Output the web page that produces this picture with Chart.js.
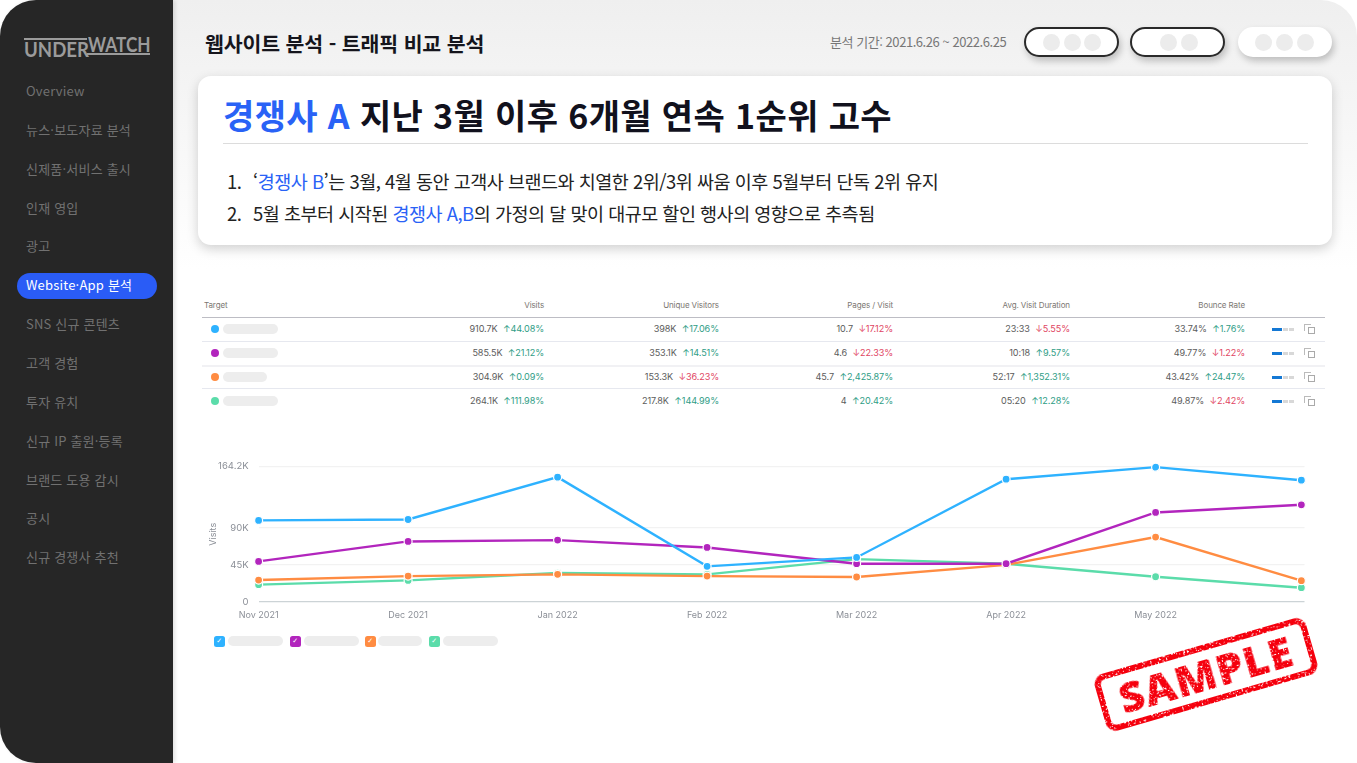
<!DOCTYPE html>
<html lang="ko">
<head>
<meta charset="utf-8">
<title>웹사이트 분석 - 트래픽 비교 분석</title>
<script src="https://cdn.jsdelivr.net/npm/chart.js@4/dist/chart.umd.js"></script>
<style>
  * { box-sizing: border-box; }
  html, body { margin: 0; width: 1357px; height: 763px; overflow: hidden; background: #fff; font-family: "Noto Sans CJK KR", "Noto Sans", sans-serif; }
  .abs { position: absolute; }
  #main { left: 100px; top: 0; width: 1257px; height: 763px; border-radius: 0 36px 0 0; background: linear-gradient(#efefef 0, #f6f6f6 120px, #fff 270px); }
  #side { left: 0; top: 0; width: 173px; height: 763px; background: #262626; border-radius: 36px 0 0 36px; box-shadow: 2px 0 4px rgba(0,0,0,.12); }
  .menu { position: absolute; left: 26px; font-size: 13px; line-height: 18px; color: #717171; white-space: nowrap; letter-spacing: .2px; }
  #pill { left: 17px; top: 273px; width: 140px; height: 26px; border-radius: 13px; background: #2a5cf6; }
  .logo { position: absolute; font-family: "Lato", sans-serif; font-weight: 700; font-size: 20px; color: #9b9b9b; line-height: 20px; transform-origin: left; }
  .rule { position: absolute; background: #9b9b9b; height: 2px; }
  #page { left: 205px; top: 28px; font-size: 20.5px; font-weight: 700; color: #15151c; line-height: 30px; white-space: nowrap; letter-spacing: -.12px; }
  #period { left: 830px; top: 33px; font-size: 13px; color: #777; line-height: 18px; white-space: nowrap; letter-spacing: -.45px; }
  .btn { position: absolute; top: 27px; height: 30px; border-radius: 15px; background: #fff; box-shadow: 2px 4px 7px rgba(0,0,0,.22); }
  .btn.on { border: 2px solid #2a2a2a; }
  .btn i { position: absolute; top: 50%; width: 17px; height: 17px; margin-top: -8.5px; border-radius: 50%; background: #ececec; }
  #card { left: 198px; top: 76px; width: 1134px; height: 169px; background: #fff; border-radius: 13px; box-shadow: 0 4px 12px rgba(0,0,0,.18); }
  #head { left: 223px; top: 92px; font-size: 34px; line-height: 46px; font-weight: 700; color: #11111d; white-space: nowrap; letter-spacing: .37px; }
  .blue { color: #2962f6; }
  #hr { left: 223px; top: 143px; width: 1085px; height: 1px; background: #dcdcdc; }
  .li { position: absolute; font-size: 18.5px; line-height: 28px; color: #222; white-space: nowrap; letter-spacing: -.5px; }
  .cell { position: absolute; font-family: Inter, sans-serif; font-size: 9.1px; line-height: 12px; color: #5c5c5c; white-space: nowrap; text-align: right; letter-spacing: -.1px; }
  .th { color: #7c7772; font-size: 8px; }
  .up { color: #2f9d86; margin-left: 3px; }
  .down { color: #df4663; margin-left: 3px; }
  .line { position: absolute; left: 202px; width: 1123px; height: 1px; background: #e6e8ef; }
  .dot { position: absolute; left: 211px; width: 8px; height: 8px; border-radius: 50%; }
  .blank { position: absolute; height: 10px; border-radius: 5px; background: #ededed; }
  .check { position: absolute; top: 636px; width: 10.5px; height: 10.5px; border-radius: 2.5px; color: #fff; font: 700 7px/10.5px "DejaVu Sans", sans-serif; text-align: center; }
  #chartBox { position: absolute; left: 198px; top: 456px; width: 1112px; height: 176px; }
  #stamp { left: 1096px; top: 645px; width: 220px; height: 59px; border: 6px solid #f5000f; border-radius: 11px; transform: rotate(-16.1deg); color: #f5000f; font: 900 43px/46px "Open Sans", "Liberation Sans", sans-serif; text-align: center; letter-spacing: 1px; filter: url(#rough); }
</style>
</head>
<body>
<svg width="0" height="0" style="position:absolute">
  <filter id="rough" x="-5%" y="-5%" width="110%" height="110%">
    <feTurbulence type="fractalNoise" baseFrequency="0.55" numOctaves="2" seed="4" result="noise"/>
    <feColorMatrix in="noise" type="matrix" values="0 0 0 0 0  0 0 0 0 0  0 0 0 0 0  0 0 0 -14 9.7" result="specks"/>
    <feComposite in="SourceGraphic" in2="specks" operator="in"/>
  </filter>
</svg>
<div id="main" class="abs"></div>
<div id="side" class="abs">
  <div class="rule" style="left:24px;top:37.5px;width:63px"></div>
  <div class="logo" style="left:24px;top:39px;transform:scaleX(.93)">UNDER</div>
  <div class="logo" style="left:88px;top:34px;transform:scaleX(.86)">WATCH</div>
  <div class="rule" style="left:87px;top:53px;width:63px"></div>
  <div id="pill" class="abs"></div>
</div>
<div id="page" class="abs">웹사이트 분석 - 트래픽 비교 분석</div>
<div id="period" class="abs">분석 기간: 2021.6.26 ~ 2022.6.25</div>
<div class="btn on" style="left:1024px;width:95px"><i style="left:17px"></i><i style="left:38px"></i><i style="left:58px"></i></div>
<div class="btn on" style="left:1130px;width:95px"><i style="left:28px"></i><i style="left:49px"></i></div>
<div class="btn" style="left:1238px;width:94px"><i style="left:17px"></i><i style="left:38px"></i><i style="left:59px"></i></div>
<div id="card" class="abs"></div>
<div id="head" class="abs"><span class="blue">경쟁사 A</span> 지난 3월 이후 6개월 연속 1순위 고수</div>
<div id="hr" class="abs"></div>
<div class="li" style="left:227px;top:167px">1.</div>
<div class="li" style="left:253px;top:167px">‘<span class="blue">경쟁사 B</span>’는 3월, 4월 동안 고객사 브랜드와 치열한 2위/3위 싸움 이후 5월부터 단독 2위 유지</div>
<div class="li" style="left:227px;top:199px">2.</div>
<div class="li" style="left:253px;top:199px">5월 초부터 시작된 <span class="blue">경쟁사 A,B</span>의 가정의 달 맞이 대규모 할인 행사의 영향으로 추측됨</div>
<div id="table"></div>
<div id="chartBox"><canvas id="chart"></canvas></div>
<div id="legend"></div>
<div id="stamp" class="abs">SAMPLE</div>

<script>
const menuItems = ["Overview", "뉴스·보도자료 분석", "신제품·서비스 출시", "인재 영입", "광고", "Website·App 분석", "SNS 신규 콘텐츠", "고객 경험", "투자 유치", "신규 IP 출원·등록", "브랜드 도용 감시", "공시", "신규 경쟁사 추천"];
const activeMenu = 5;

const months = ["Nov 2021", "Dec 2021", "Jan 2022", "Feb 2022", "Mar 2022", "Apr 2022", "May 2022"];
// last point sits just short of a full month step in the picture
const monthPos = [0, 1, 2, 3, 4, 5, 6, 6.975];
const yTicks = [0, 45, 90, 164.2];

const seriesColors = ["#2eb2ff", "#b225bd", "#ff8c42", "#5bdcaa"];
const visitsA = [98.9, 100, 151.3, 43.2, 54, 148.8, 163.4, 147.6];
const visitsB = [49.2, 73.4, 75, 66.1, 46.4, 46.4, 108.5, 117.8];
const visitsC = [26.6, 31.4, 33.5, 31.4, 30.3, 45, 78.7, 25.8];
const visitsD = [21, 26.2, 35.1, 33.5, 52, 46.4, 30.6, 17.3];

const columns = ["Visits", "Unique Visitors", "Pages / Visit", "Avg. Visit Duration", "Bounce Rate"];
const columnRight = [544, 719, 893, 1070, 1245];
const rowTop = [323, 347, 371, 395];
const rowRules = [341, 365, 388];
const blankWidths = [55, 55, 44, 55];
const rowA = [["910.7K", "44.08%", 1], ["398K", "17.06%", 1], ["10.7", "17.12%", 0], ["23:33", "5.55%", 0], ["33.74%", "1.76%", 1]];
const rowB = [["585.5K", "21.12%", 1], ["353.1K", "14.51%", 1], ["4.6", "22.33%", 0], ["10:18", "9.57%", 1], ["49.77%", "1.22%", 0]];
const rowC = [["304.9K", "0.09%", 1], ["153.3K", "36.23%", 0], ["45.7", "2,425.87%", 1], ["52:17", "1,352.31%", 1], ["43.42%", "24.47%", 1]];
const rowD = [["264.1K", "111.98%", 1], ["217.8K", "144.99%", 1], ["4", "20.42%", 1], ["05:20", "12.28%", 1], ["49.87%", "2.42%", 0]];
const rows = [rowA, rowB, rowC, rowD];

const legendChecks = [214, 290, 365, 429];
const legendBlanks = [[228, 55], [304, 55], [378, 44], [443, 55]];

function add(parent, html) {
  parent.insertAdjacentHTML("beforeend", html);
}

const side = document.getElementById("side");
menuItems.forEach((item, i) => {
  const color = i === activeMenu ? "color:#fff;" : "";
  add(side, `<div class="menu" style="top:${82 + i * 38.85}px;${color}">${item}</div>`);
});

const table = document.getElementById("table");
add(table, `<div class="cell th" style="left:204px;top:299px;text-align:left">Target</div>`);
columns.forEach((name, c) => {
  add(table, `<div class="cell th" style="right:${1357 - columnRight[c]}px;top:299px">${name}</div>`);
});
add(table, `<div class="line" style="top:317px;background:#bdbdc4"></div>`);
rowRules.forEach((top, i) => {
  add(table, `<div class="line" style="top:${top}px;${i === 1 ? "height:2px;background:#f1f1f4" : ""}"></div>`);
});
rows.forEach((row, r) => {
  const top = rowTop[r];
  add(table, `<div class="dot" style="top:${top + 2}px;background:${seriesColors[r]}"></div>`);
  add(table, `<div class="blank" style="left:223px;top:${top + 1}px;width:${blankWidths[r]}px"></div>`);
  row.forEach(([value, change, up], c) => {
    const mark = up ? `<span class="up">↑${change}</span>` : `<span class="down">↓${change}</span>`;
    add(table, `<div class="cell" style="right:${1357 - columnRight[c]}px;top:${top}px">${value} ${mark}</div>`);
  });
  add(table, `<div class="abs" style="left:1272px;top:${top + 5}px;width:10px;height:2.5px;background:#1478d4"></div>`);
  add(table, `<div class="abs" style="left:1283px;top:${top + 5}px;width:5px;height:2.5px;background:#d8d8d8"></div>`);
  add(table, `<div class="abs" style="left:1289px;top:${top + 5}px;width:5px;height:2.5px;background:#d8d8d8"></div>`);
  add(table, `<div class="abs" style="left:1304px;top:${top + 1}px;width:7px;height:7px;border:1px solid #bbb;border-right:0;border-bottom:0"></div>`);
  add(table, `<div class="abs" style="left:1308px;top:${top + 4}px;width:7px;height:7px;border:1px solid #aaa;background:#fff"></div>`);
});

const legend = document.getElementById("legend");
legendChecks.forEach((left, i) => {
  add(legend, `<div class="check" style="left:${left}px;background:${seriesColors[i]}">✓</div>`);
  add(legend, `<div class="blank" style="left:${legendBlanks[i][0]}px;top:636px;width:${legendBlanks[i][1]}px"></div>`);
});

function lineSeries(values, color) {
  return {
    data: values.map((v, i) => ({ x: monthPos[i], y: v })),
    borderColor: color,
    backgroundColor: color,
    borderWidth: 2.4,
    pointRadius: 4,
    pointBorderColor: "#fff",
    pointBorderWidth: 1.2,
    tension: 0,
    clip: false,
  };
}

const tickColor = "#8b8f97";

new Chart(document.getElementById("chart"), {
  type: "line",
  data: {
    datasets: [
      // drawn back to front so that green stays on top as in the picture
      lineSeries(visitsA, seriesColors[0]),
      lineSeries(visitsB, seriesColors[1]),
      lineSeries(visitsC, seriesColors[2]),
      lineSeries(visitsD, seriesColors[3]),
    ],
  },
  options: {
    animation: false,
    responsive: true,
    maintainAspectRatio: false,
    layout: { padding: { top: 10.5, right: 5.5, left: 0, bottom: 0 } },
    plugins: { legend: { display: false }, tooltip: { enabled: false } },
    scales: {
      x: {
        type: "linear",
        min: 0,
        max: 6.996,
        afterBuildTicks: (axis) => { axis.ticks = months.map((_, i) => ({ value: i })); },
        afterFit: (axis) => { axis.height = 30; },
        grid: { display: false },
        border: { display: false },
        ticks: {
          autoSkip: false,
          maxRotation: 0,
          padding: 0,
          color: tickColor,
          font: { family: "Inter", size: 9 },
          callback: (value) => months[value],
        },
      },
      y: {
        min: 0,
        max: 164.2,
        afterBuildTicks: (axis) => { axis.ticks = yTicks.map((v) => ({ value: v })); },
        afterFit: (axis) => {
          axis.width = 60.6;
          // tick padding would otherwise push the plot top down
          axis.paddingTop = 0;
          axis.paddingBottom = 0;
        },
        title: {
          display: true,
          text: "Visits",
          color: tickColor,
          font: { family: "Inter", size: 9 },
          padding: { top: 10, bottom: 0 },
        },
        grid: {
          drawTicks: false,
          lineWidth: 1.2,
          color: (context) => (context.tick.value === 0 ? "#ccd3d6" : "#f2f2f2"),
        },
        border: { display: false },
        ticks: {
          padding: 10,
          color: tickColor,
          font: { family: "Inter", size: 9.5 },
          callback: (value) => (value === 0 ? "0" : `${value}K`),
        },
      },
    },
  },
});
</script>
</body>
</html>
